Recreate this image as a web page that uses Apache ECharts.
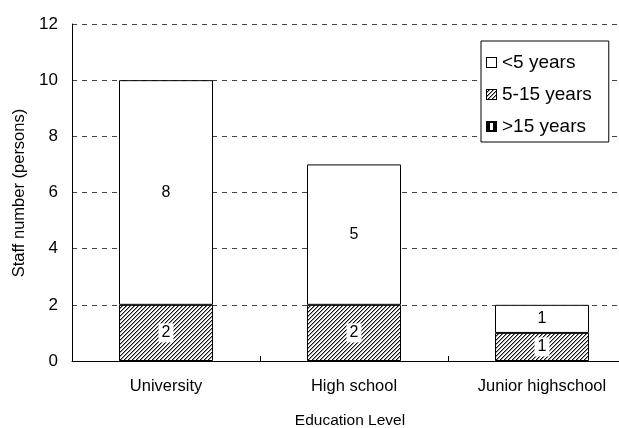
<!DOCTYPE html>
<html>
<head>
<meta charset="utf-8">
<script src="https://cdn.jsdelivr.net/npm/echarts@6/dist/echarts.min.js"></script>
<style>
  html, body { margin: 0; padding: 0; background: #fff; }
  #chart { width: 619px; height: 428px; }
</style>
</head>
<body>
<div id="chart"></div>
<script>
// Staff by education level, stacked by years of service
const categories = ['University', 'High school', 'Junior highschool'];
const under5 = [8, 5, 1];
const from5to15 = [2, 2, 1];
const over15 = [0, 0, 0];
const yTicks = { min: 0, max: 12, interval: 2 };
const seriesNames = ['<5 years', '5-15 years', '>15 years'];

const FONT = '"Liberation Sans", Arial, sans-serif';

// Draws the /// hatch into a canvas context over the given box
function paintHatch(g, w, h) {
  g.fillStyle = '#fff';
  g.fillRect(0, 0, w, h);
  for (let y = 0; y < h; y++) {
    for (let x = 0; x < w; x++) {
      const d = (x + y) % 4;
      if (d === 3) { g.fillStyle = '#111'; g.fillRect(x, y, 1, 1); }
      else if (d === 0) { g.fillStyle = '#999'; g.fillRect(x, y, 1, 1); }
    }
  }
}

function hatchTile() {
  const c = document.createElement('canvas');
  c.width = 4; c.height = 4;
  paintHatch(c.getContext('2d'), 4, 4);
  return c;
}

// Small square legend swatches
function swatch(kind) {
  const s = 11;
  const c = document.createElement('canvas');
  c.width = s; c.height = s;
  const g = c.getContext('2d');
  if (kind === 'hatch') {
    paintHatch(g, s, s);
  } else if (kind === 'solid') {
    g.fillStyle = '#000';
    g.fillRect(0, 0, s, s);
    g.fillStyle = '#fff';
    g.fillRect(4, 2, 3, s - 4);
  } else {
    g.fillStyle = '#fff';
    g.fillRect(0, 0, s, s);
  }
  g.strokeStyle = '#000';
  g.lineWidth = 1;
  g.strokeRect(0.5, 0.5, s - 1, s - 1);
  return 'image://' + c.toDataURL();
}

const hatch = { image: hatchTile(), repeat: 'repeat' };

const segLabel = {
  show: true,
  position: 'inside',
  color: '#000',
  fontFamily: FONT,
  fontSize: 16,
  backgroundColor: '#fff',
  padding: [2, 3, 1, 3],
  formatter: p => (p.value ? String(p.value) : '')
};

const chart = echarts.init(document.getElementById('chart'), null, { renderer: 'canvas' });

chart.setOption({
  animation: false,
  backgroundColor: '#fff',
  grid: { left: 72, top: 24, bottom: 67, width: 564, outerBoundsMode: 'none', containLabel: false },
  legend: {
    orient: 'vertical',
    left: 481,
    top: 41,
    data: [
      { name: seriesNames[0], icon: swatch('white') },
      { name: seriesNames[1], icon: swatch('hatch') },
      { name: seriesNames[2], icon: swatch('solid') }
    ],
    itemWidth: 11,
    itemHeight: 11,
    itemGap: 13,
    padding: [12, 17, 6, 5],
    borderColor: '#000',
    borderWidth: 1,
    backgroundColor: '#fff',
    textStyle: { fontFamily: FONT, fontSize: 19, lineHeight: 19, color: '#000' }
  },
  xAxis: {
    type: 'category',
    data: categories,
    axisLine: { lineStyle: { color: '#000', width: 1 } },
    axisTick: { show: true, inside: true, length: 5, lineStyle: { color: '#000' } },
    axisLabel: { color: '#000', fontFamily: FONT, fontSize: 16.5, margin: 17 }
  },
  yAxis: {
    type: 'value',
    min: yTicks.min,
    max: yTicks.max,
    interval: yTicks.interval,
    axisLine: { show: true, lineStyle: { color: '#000', width: 1 } },
    axisTick: { show: false },
    axisLabel: { color: '#000', fontFamily: FONT, fontSize: 17, margin: 14 },
    splitLine: { show: true, lineStyle: { color: '#444', type: [5, 5], width: 1 } }
  },
  graphic: [
    {
      type: 'text',
      x: 350, y: 421,
      style: {
        text: 'Education Level', fontFamily: FONT, fontSize: 15.5, fill: '#000',
        align: 'center', verticalAlign: 'middle'
      }
    },
    {
      type: 'text',
      x: 19, y: 193,
      rotation: Math.PI / 2,
      style: {
        text: 'Staff number (persons)', fontFamily: FONT, fontSize: 16.5, fill: '#000',
        align: 'center', verticalAlign: 'middle'
      }
    }
  ],
  series: [
    {
      name: seriesNames[1],
      type: 'bar',
      stack: 'staff',
      barWidth: '50%',
      data: from5to15,
      itemStyle: { color: hatch, borderColor: '#000', borderWidth: 1 },
      label: segLabel
    },
    {
      name: seriesNames[0],
      type: 'bar',
      stack: 'staff',
      barWidth: '50%',
      data: under5,
      itemStyle: { color: '#fff', borderColor: '#000', borderWidth: 1 },
      label: segLabel
    },
    {
      name: seriesNames[2],
      type: 'bar',
      stack: 'staff',
      barWidth: '50%',
      data: over15,
      itemStyle: { color: '#000', borderWidth: 0 },
      label: { show: false }
    }
  ]
});
</script>
</body>
</html>
